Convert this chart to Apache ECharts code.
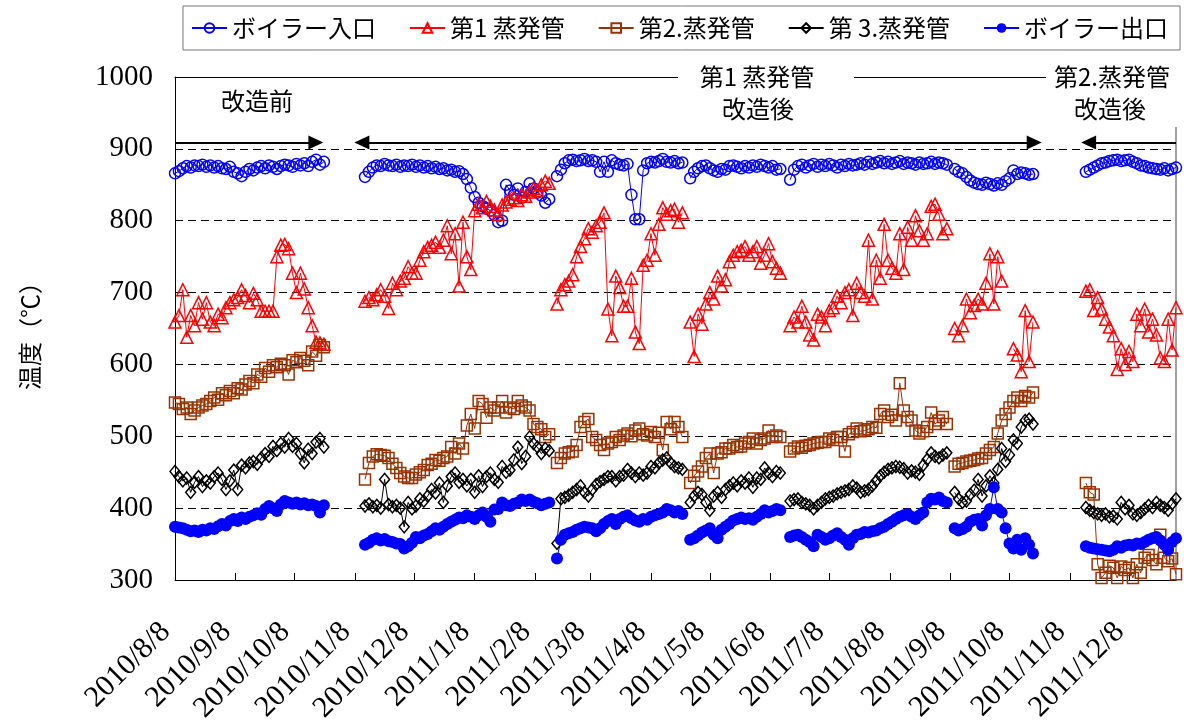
<!DOCTYPE html>
<html><head><meta charset="utf-8">
<script src="https://cdn.jsdelivr.net/npm/echarts@6/dist/echarts.min.js"></script>
<style>html,body{margin:0;padding:0;background:#fff}#c{width:1184px;height:726px}</style>
</head><body><div id="c"></div>
<script>
// ---- data ----
const axisStartDate = [2010, 7, 8];   // 2010/8/8 (x values are days after this date)
const axisEndDay = 511;               // right edge of the plot
const stepDays = 2;                   // sampling step of the values below
const segStartDays = [0, 97, 195, 263, 314, 398, 465]; // first day of each measuring period

const tickLabels = ['2010/8/8','2010/9/8','2010/10/8','2010/11/8','2010/12/8','2011/1/8','2011/2/8','2011/3/8',
  '2011/4/8','2011/5/8','2011/6/8','2011/7/8','2011/8/8','2011/9/8','2011/10/8','2011/11/8','2011/12/8'];
const yTicks = [300, 400, 500, 600, 700, 800, 900, 1000];
const seriesNames = ['ボイラー入口', '第1 蒸発管', '第2.蒸発管', '第 3.蒸発管', 'ボイラー出口'];

const inletSegs = [
  [866,869,873,876,874,877,876,878,875,877,874,876,873,872,875,868,866,862,868,872,870,874,876,873,877,875,872,876,878,877,875,879,877,880,876,882,885,878,882],
  [861,868,874,877,876,879,877,876,878,875,877,876,878,875,877,874,876,873,875,872,873,870,871,868,869,865,858,846,833,825,820,817,814,808,798,800,850,842,836,845,832,840,852,845,839,835,825,830],
  [862,871,880,884,885,883,884,886,883,884,882,868,882,868,884,880,878,877,879,836,802,802,870,880,882,881,883,886,882,881,883,880,881],
  [859,868,873,876,877,873,870,868,872,871,876,877,875,873,876,874,877,875,878,876,874,876,871,872],
  [857,871,876,878,874,877,879,875,878,876,879,877,874,878,876,879,877,878,880,878,882,879,881,883,880,882,879,881,883,879,881,880,878,881,879,880,882,879,881,880,878],
  [872,868,866,861,856,853,851,850,853,851,849,852,850,855,859,870,865,867,866,864,865],
  [868,871,874,877,880,881,883,884,885,883,884,885,882,880,877,876,874,873,872,871,873,870,872,874]
];
const evap1Segs = [
  [659,668,704,638,668,654,686,663,686,659,654,670,665,679,686,690,693,704,696,686,699,690,674,674,674,674,750,766,767,761,727,700,727,705,679,654,631,630,628],
  [688,693,690,697,704,695,678,713,704,716,720,736,727,727,745,757,763,766,770,763,773,793,754,782,709,798,750,732,814,823,818,827,820,815,809,822,826,830,832,828,836,834,840,845,842,850,855,852],
  [684,704,711,716,725,750,764,775,789,784,793,798,811,677,640,723,707,681,681,720,645,629,738,745,782,752,795,818,809,814,816,798,811],
  [659,611,670,656,684,700,691,723,709,718,743,752,757,759,764,752,757,764,741,752,768,743,734,727],
  [654,666,659,681,659,641,634,670,666,654,675,679,695,686,700,704,668,713,700,695,773,691,745,720,795,745,734,727,782,732,791,773,807,786,773,782,820,823,809,782,789],
  [650,640,654,691,672,682,691,684,713,754,684,750,716,null,null,622,613,590,675,604,659],
  [702,704,675,693,677,663,652,640,593,622,600,618,604,670,654,677,645,663,641,609,604,663,620,679]
];
const evap2Segs = [
  [547,545,538,540,531,536,540,543,545,549,554,551,560,557,563,560,567,565,572,577,574,586,583,595,590,599,596,601,599,586,606,603,609,605,599,618,612,627,624],
  [440,463,472,475,474,473,470,462,456,449,444,442,442,447,450,453,460,462,467,466,470,472,485,476,490,483,515,531,511,549,545,526,540,536,540,549,533,540,538,549,543,540,536,517,513,510,499,503],
  [463,470,476,478,479,488,513,520,524,499,495,488,481,490,492,499,495,501,504,500,508,511,503,501,506,499,505,481,520,510,520,513,499],
  [435,445,451,458,470,476,449,476,478,483,483,488,485,486,490,492,497,490,495,497,508,499,501,499],
  [479,483,486,484,487,488,490,491,492,492,497,495,499,499,479,503,506,511,507,508,510,513,512,531,536,527,530,522,574,536,527,522,508,504,507,513,533,517,522,527,517],
  [458,462,463,465,466,467,469,470,476,481,485,504,522,531,540,549,554,549,556,554,561],
  [435,422,419,322,303,310,320,317,303,319,314,317,303,322,310,331,335,328,322,363,331,326,330,308]
];
const evap3Segs = [
  [451,444,438,442,422,436,444,430,438,435,444,449,440,426,438,453,426,460,456,463,465,461,470,476,472,486,480,490,485,497,486,490,476,463,482,476,492,497,485],
  [403,406,402,404,400,440,405,402,404,400,374,408,399,403,413,410,417,426,421,435,408,431,444,449,436,440,431,440,422,445,430,444,449,440,436,458,450,453,467,485,462,472,499,490,485,476,483,480],
  [351,413,415,418,422,426,431,422,417,426,433,437,440,444,444,438,444,446,454,449,444,449,446,449,458,456,463,467,470,463,458,456,454],
  [408,417,422,419,408,397,417,422,415,426,431,435,431,438,435,442,429,442,440,456,449,444,451,449],
  [410,412,413,408,406,404,399,404,408,413,415,417,420,422,424,426,431,428,422,424,426,431,438,445,450,454,456,458,457,455,449,452,450,447,460,468,477,472,470,474,477],
  [422,413,408,410,419,425,440,417,431,445,435,454,483,465,474,495,490,513,522,524,517],
  [401,397,394,392,390,392,388,389,385,408,399,404,392,390,394,399,404,401,408,404,401,397,406,413]
];
const outletSegs = [
  [374,373,372,370,368,369,367,370,369,372,371,375,378,376,382,385,382,387,385,388,390,393,391,399,403,400,396,405,410,408,406,408,405,407,404,405,403,394,404],
  [349,352,356,358,355,357,354,353,351,350,344,347,352,360,358,362,364,368,372,370,374,378,381,384,387,386,390,388,385,390,394,388,381,398,399,408,404,403,406,408,412,410,412,409,407,404,406,408],
  [330,356,363,365,367,370,372,374,373,372,368,372,378,382,385,378,385,388,390,386,383,381,385,384,388,390,392,394,399,397,394,396,392],
  [356,358,362,366,369,372,363,358,370,374,378,383,385,387,385,386,384,388,392,397,394,396,399,397],
  [360,362,363,360,356,353,347,363,360,356,358,362,365,360,356,349,358,363,364,367,366,368,369,372,374,378,381,385,388,390,392,388,385,390,394,408,413,412,415,410,408],
  [372,369,371,374,381,384,385,376,390,399,429,399,394,372,351,344,356,342,358,349,337],
  [347,345,344,343,342,341,340,342,347,345,348,349,348,351,350,353,356,358,360,355,349,342,353,358]
];
// annotation periods (days after start) and the level of the arrows
const arrowLevel = 909;
const arrowBefore = [0, 71.9];
const arrowAfter1 = [95.4, 438.6];
const arrowAfter2 = [466.4, 511];

// ---- build ----
const DAY = 86400000;
const base = new Date(axisStartDate[0], axisStartDate[1], axisStartDate[2]);
function build(segs) {
  const out = [];
  segs.forEach((seg, k) => {
    seg.forEach((v, i) => out.push([segStartDays[k] + stepDays * i, v]));
    out.push([segStartDays[k] + stepDays * seg.length - 1, null]);
  });
  return out;
}
const tickDays = tickLabels.map(s => {
  const p = s.split('/').map(Number);
  return Math.round((new Date(p[0], p[1] - 1, p[2]) - base) / DAY);
});
const labelOf = {};
tickDays.forEach((d, i) => { labelOf[d] = tickLabels[i]; });

const SERIF = "'Liberation Serif', 'Times New Roman', 'DejaVu Serif', serif";
const JP = "'Noto Sans CJK JP', sans-serif";
const BLUE = '#0000ff', RED = '#ff0000', BROWN = '#993300', BLACK = '#000000';
const clear = 'rgba(255,255,255,0)';

function mkSeries(name, segs, color, symbol, size, filled) {
  return {
    name, type: 'line', data: build(segs), connectNulls: false,
    symbol, symbolSize: size, showSymbol: true,
    color: color,
    lineStyle: { color, width: 1 },
    itemStyle: { color: filled ? color : clear, borderColor: color, borderWidth: filled ? 0 : 1.5 },
    emphasis: { disabled: true }, silent: true
  };
}
const series = [
  mkSeries(seriesNames[0], inletSegs, BLUE, 'circle', 11, false),
  mkSeries(seriesNames[1], evap1Segs, RED, 'triangle', 12, false),
  mkSeries(seriesNames[2], evap2Segs, BROWN, 'rect', 11, false),
  mkSeries(seriesNames[3], evap3Segs, BLACK, 'diamond', [10, 12], false),
  mkSeries(seriesNames[4], outletSegs, BLUE, 'circle', 12, true)
];
series[0].markLine = {
  silent: true, animation: false, symbolSize: [14, 15],
  lineStyle: { color: '#000', width: 2, type: 'solid' },
  itemStyle: { color: '#000' },
  label: { show: false }, emphasis: { disabled: true },
  data: [
    [{ coord: [arrowBefore[0], arrowLevel], symbol: 'none' }, { coord: [arrowBefore[1], arrowLevel], symbol: 'triangle' }],
    [{ coord: [arrowAfter1[0], arrowLevel], symbol: 'triangle' }, { coord: [arrowAfter1[1], arrowLevel], symbol: 'triangle' }],
    [{ coord: [arrowAfter2[0], arrowLevel], symbol: 'triangle' }, { coord: [arrowAfter2[1], arrowLevel], symbol: 'none' }]
  ]
};

function txt(text, x, y, size, rot) {
  return { type: 'text', x, y, rotation: rot || 0, z: 101,
    style: { text, fontFamily: JP, fontSize: size, fill: '#000', textAlign: 'center', align: 'center', textVerticalAlign: 'middle', verticalAlign: 'middle' } };
}
function wrect(x, y, w, h) {
  return { type: 'rect', shape: { x, y, width: w, height: h }, style: { fill: '#fff' }, z: 100 };
}
const frameAxis = { axisTick: { show: false }, axisLabel: { show: false }, splitLine: { show: false } };

const chart = echarts.init(document.getElementById('c'), null, { renderer: 'canvas' });
chart.setOption({
  animation: false,
  backgroundColor: '#fff',
  grid: { left: 175, right: 8, top: 77, bottom: 138, show: false },
  legend: {
    data: seriesNames, left: 183, top: 6, orient: 'horizontal',
    padding: [10, 12, 10, 8], itemGap: 33, itemWidth: 35, itemHeight: 12,
    borderColor: '#777', borderWidth: 1,
    textStyle: { fontFamily: JP, fontSize: 24, color: '#000' }
  },
  xAxis: [{
    type: 'value', min: 0, max: axisEndDay, position: 'bottom',
    axisLine: { show: true, onZero: false, lineStyle: { color: '#000', width: 1 } },
    axisTick: { show: true, inside: true, length: 7, customValues: tickDays, lineStyle: { color: '#000' } },
    splitLine: { show: false },
    axisLabel: {
      customValues: tickDays, rotate: 45, margin: 38, hideOverlap: false, showMinLabel: true, showMaxLabel: true,
      formatter: v => '{a|' + (labelOf[Math.round(v)] || '') + '}',
      rich: { a: { fontFamily: SERIF, fontSize: 30, color: '#000', padding: [0, 13, 0, 0] } }
    }
  }, Object.assign({
    type: 'value', min: 0, max: axisEndDay, position: 'top',
    axisLine: { show: true, onZero: false, lineStyle: { color: '#000', width: 1 } }
  }, frameAxis)],
  yAxis: [{
    type: 'value', min: yTicks[0], max: yTicks[yTicks.length - 1], interval: 100,
    axisLine: { show: true, onZero: false, lineStyle: { color: '#000', width: 1 } },
    axisTick: { show: false },
    axisLabel: { fontFamily: SERIF, fontSize: 29, color: '#000', margin: 22, formatter: v => String(v) },
    splitLine: { show: true, lineStyle: { color: '#000', width: 1, type: [8, 5] } }
  }, Object.assign({
    type: 'value', min: yTicks[0], max: yTicks[yTicks.length - 1], interval: 100, position: 'right',
    axisLine: { show: true, onZero: false, lineStyle: { color: '#808080', width: 1.5 } }
  }, frameAxis)],
  graphic: [
    txt('温度（℃）', 30, 330, 24, Math.PI / 2),
    txt('改造前', 257, 101, 24),
    wrect(678, 63, 176, 28),
    txt('第1 蒸発管', 757, 77, 24),
    txt('改造後', 758, 109, 24),
    wrect(1046, 63, 138, 64),
    txt('第2.蒸発管', 1112, 77, 24),
    txt('改造後', 1110, 109, 24)
  ],
  series
});
</script></body></html>
